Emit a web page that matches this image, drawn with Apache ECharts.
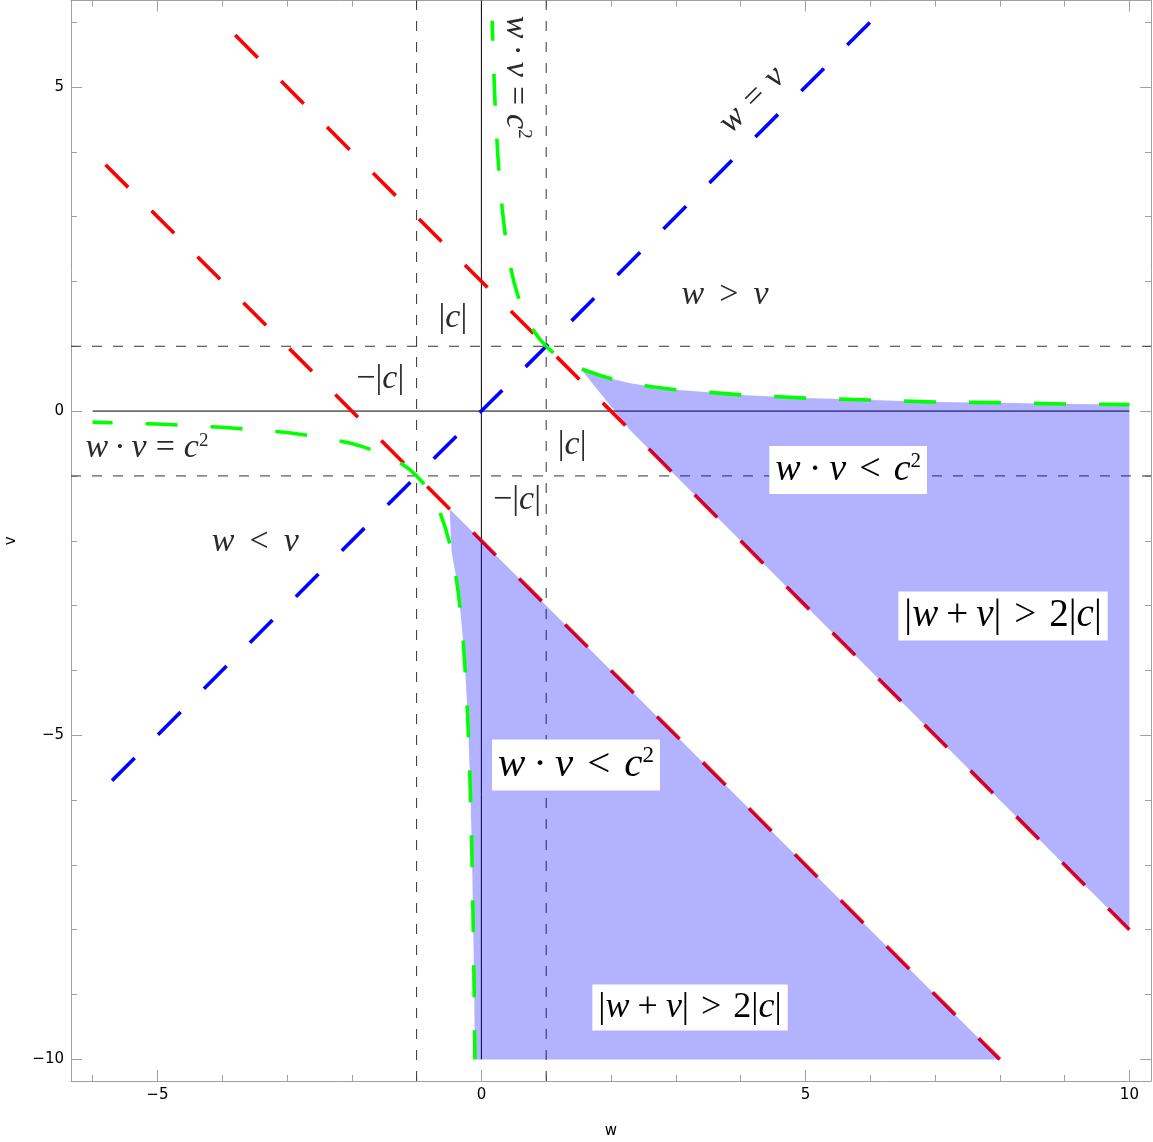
<!DOCTYPE html>
<html lang="en">
<head>
<meta charset="UTF-8">
<title>w v regions</title>
<script src="https://cdn.jsdelivr.net/npm/echarts@6/dist/echarts.min.js"></script>
<style>
    html, body { margin: 0; padding: 0; background: #fff; }
    #main { width: 1153px; height: 1142px; }
</style>
</head>
<body>
<div id="main"></div>
<script>
    // plot range (Mathematica pads [-6,10] x [-10,6] by 1/48 of the span)
    const W_MIN = -6.3333, W_MAX = 10.3333;
    const V_MIN = -10.3333, V_MAX = 6.3333;

    const ticksW = [-5, 0, 5, 10];
    const ticksV = [-10, -5, 0, 5];
    const minorW = [-6, -5, -4, -3, -2, -1, 0, 1, 2, 3, 4, 5, 6, 7, 8, 9, 10];
    const minorV = [-10, -9, -8, -7, -6, -5, -4, -3, -2, -1, 0, 1, 2, 3, 4, 5, 6];

    // |w+v| = 2|c|  (red)
    const sumUpperW = [-3.8, 10];
    const sumUpperV = [5.8, -8];
    const sumLowerW = [-5.8, 8];
    const sumLowerV = [3.8, -10];

    // w = v  (blue)
    const diagW = [-5.7, 6];
    const diagV = [-5.7, 6];

    // w·v = c²  (green)
    const hypUpperW = [0.166, 0.18, 0.2, 0.22, 0.25, 0.28, 0.32, 0.36, 0.4, 0.45, 0.5, 0.56, 0.63, 0.71, 0.8, 0.9, 1, 1.12, 1.25, 1.4, 1.6, 1.8, 2, 2.3, 2.6, 3, 3.5, 4, 5, 6, 7, 8, 9, 10];
    const hypUpperV = [6.02, 5.56, 5, 4.55, 4, 3.57, 3.13, 2.78, 2.5, 2.22, 2, 1.79, 1.59, 1.41, 1.25, 1.11, 1, 0.89, 0.8, 0.71, 0.63, 0.56, 0.5, 0.43, 0.38, 0.33, 0.29, 0.25, 0.2, 0.17, 0.14, 0.13, 0.11, 0.1];
    const hypLowerW = [-6, -5, -4, -3.5, -3, -2.5, -2, -1.8, -1.6, -1.4, -1.25, -1.12, -1, -0.9, -0.8, -0.71, -0.63, -0.56, -0.5, -0.45, -0.4, -0.36, -0.32, -0.28, -0.25, -0.22, -0.2, -0.18, -0.16, -0.14, -0.12, -0.11, -0.1];
    const hypLowerV = [-0.17, -0.2, -0.25, -0.29, -0.33, -0.4, -0.5, -0.56, -0.63, -0.71, -0.8, -0.89, -1, -1.11, -1.25, -1.41, -1.59, -1.79, -2, -2.22, -2.5, -2.78, -3.13, -3.57, -4, -4.55, -5, -5.56, -6.25, -7.14, -8.33, -9.09, -10];

    // ±|c| guides
    const guideW = [-1, 1];
    const guideV = [-1, 1];

    // shaded regions: w·v < c² and |w+v| > 2|c|
    const shadeUpperW = [1.54, 1.6, 1.8, 2, 2.3, 2.6, 3, 3.5, 4, 5, 6, 7, 8, 9, 10, 10, 2.3];
    const shadeUpperV = [0.64, 0.63, 0.56, 0.5, 0.43, 0.38, 0.33, 0.29, 0.25, 0.2, 0.17, 0.14, 0.13, 0.11, 0.1, -8, -0.3];
    const shadeLowerW = [-0.49, -0.46, -0.4, -0.36, -0.32, -0.28, -0.25, -0.22, -0.2, -0.18, -0.16, -0.14, -0.12, -0.11, -0.1, 8];
    const shadeLowerV = [-1.51, -2.17, -2.5, -2.78, -3.13, -3.57, -4, -4.55, -5, -5.56, -6.25, -7.14, -8.33, -9.09, -10, -10];

    const pts = (xs, ys) => xs.map((x, i) => [x, ys[i]]);

    const frameColor = '#a0a0a0';
    const fmt = v => String(v).replace('-', '\u2212');

    function axisDef(position, min, max, values, tickLen, withLabels, showLine) {
        return {
            type: 'value', position: position, min: min, max: max,
            splitLine: { show: false },
            axisLine: { show: showLine, onZero: false, lineStyle: { color: frameColor, width: 1 } },
            axisTick: { show: true, inside: true, length: tickLen, customValues: values,
                lineStyle: { color: frameColor, width: 1 } },
            axisLabel: withLabels
                ? { show: true, customValues: values, margin: 7, color: '#000',
                    fontFamily: 'DejaVu Sans', fontSize: 15, formatter: fmt }
                : { show: false }
        };
    }

    function lineSeries(data, color, width, dash, offset, z) {
        return {
            type: 'line', data: data, xAxisIndex: 0, yAxisIndex: 0,
            symbol: 'none', showSymbol: false, silent: true, z: z,
            lineStyle: { color: color, width: width, type: dash, dashOffset: offset }
        };
    }

    function shadeSeries(data) {
        return {
            type: 'custom', xAxisIndex: 0, yAxisIndex: 0, z: 3, silent: true,
            data: data,
            renderItem: function (params, api) {
                if (params.dataIndex !== 0) return;
                return {
                    type: 'polygon',
                    shape: { points: data.map(p => api.coord(p)) },
                    style: { fill: 'rgba(0,0,255,0.3)' }
                };
            }
        };
    }

    const xBottom = axisDef('bottom', W_MIN, W_MAX, ticksW, 11, true, true);
    xBottom.name = 'w';
    xBottom.nameLocation = 'middle';
    xBottom.nameGap = 43;
    xBottom.nameTextStyle = { fontFamily: 'DejaVu Sans', fontSize: 15, color: '#000' };
    const yLeft = axisDef('left', V_MIN, V_MAX, ticksV, 11, true, true);
    yLeft.name = 'v';
    yLeft.nameLocation = 'middle';
    yLeft.nameGap = 52;
    yLeft.nameTextStyle = { fontFamily: 'DejaVu Sans', fontSize: 15, color: '#000' };

    const guideDash = [10, 11];
    const series = [];
    guideV.forEach(v => series.push(lineSeries([[W_MIN, v], [W_MAX, v]], '#333', 1, guideDash, 0, 1)));
    guideW.forEach(w => series.push(lineSeries([[w, V_MIN], [w, V_MAX]], '#333', 1, guideDash, 0, 1)));
    series.push(lineSeries([[-6, 0], [10, 0]], '#000', 1, 'solid', 0, 1));
    series.push(lineSeries([[0, -10], [0, V_MAX]], '#000', 1, 'solid', 0, 1));
    series.push(lineSeries(pts(sumUpperW, sumUpperV), '#ff0000', 3.6, [32, 33], 0, 2));
    series.push(lineSeries(pts(sumLowerW, sumLowerV), '#ff0000', 3.6, [32, 33], 0, 2));
    series.push(lineSeries(pts(diagW, diagV), '#0000ff', 3.6, [32, 33], 0, 2));
    series.push(shadeSeries(pts(shadeUpperW, shadeUpperV)));
    series.push(shadeSeries(pts(shadeLowerW, shadeLowerV)));
    series.push(lineSeries(pts(hypUpperW, hypUpperV), '#00ff00', 3.6, [32, 33], 12, 4));
    series.push(lineSeries(pts(hypLowerW, hypLowerV), '#00ff00', 3.6, [32, 33], 12, 4));

    const chart = echarts.init(document.getElementById('main'));
    chart.setOption({
        animation: false,
        backgroundColor: '#fff',
        grid: { left: 71, right: 2, top: 0.5, bottom: 61, outerBoundsMode: 'none', containLabel: false },
        xAxis: [
            xBottom,
            axisDef('top', W_MIN, W_MAX, ticksW, 11, false, true),
            axisDef('bottom', W_MIN, W_MAX, minorW, 6, false, false),
            axisDef('top', W_MIN, W_MAX, minorW, 6, false, false)
        ],
        yAxis: [
            yLeft,
            axisDef('right', V_MIN, V_MAX, ticksV, 11, false, true),
            axisDef('left', V_MIN, V_MAX, minorV, 6, false, false),
            axisDef('right', V_MIN, V_MAX, minorV, 6, false, false)
        ],
        series: series
    });

    // annotations
    function richFor(size, color, bin, rel) {
        const base = { fontFamily: 'Liberation Serif', fontSize: size, fill: color };
        return {
            i: Object.assign({}, base, { fontStyle: 'italic' }),
            r: Object.assign({}, base),
            b: Object.assign({}, base, { padding: [0, bin] }),
            e: Object.assign({}, base, { padding: [0, rel] }),
            s: Object.assign({}, base, { fontSize: Math.round(size * 0.56), verticalAlign: 'top' })
        };
    }

    const prodEq = '{i|w}{b|·}{i|v}{e|=}{i|c}{s|2}';
    const prodLess = '{i|w}{b|·}{i|v}{e|<}{i|c}{s|2}';
    const sumMore = '{r||}{i|w}{b|+}{i|v}{r||}{e|>}{r|2|}{i|c}{r||}';
    const absC = '{r||}{i|c}{r||}';
    const negAbsC = '{r|\u2212|}{i|c}{r||}';

    const notes = [
        { at: [0.535, 5.15], text: prodEq, size: 34, bin: 6, rel: 9, rot: -90 },
        { at: [4.18, 4.8], text: '{i|w}{e|=}{i|v}', size: 34, bin: 6, rel: 11, rot: 45 },
        { at: [3.76, 1.79], text: '{i|w}{e|>}{i|v}', size: 34, bin: 6, rel: 15, rot: 0 },
        { at: [-0.44, 1.43], text: absC, size: 34, bin: 6, rel: 9, rot: 0 },
        { at: [-1.56, 0.49], text: negAbsC, size: 34, bin: 6, rel: 9, rot: 0 },
        { at: [1.40, -0.52], text: absC, size: 34, bin: 6, rel: 9, rot: 0 },
        { at: [0.55, -1.37], text: negAbsC, size: 34, bin: 6, rel: 9, rot: 0 },
        { at: [-5.16, -0.57], text: prodEq, size: 34, bin: 6, rel: 9, rot: 0 },
        { at: [-3.49, -2.02], text: '{i|w}{e|<}{i|v}', size: 34, bin: 6, rel: 15, rot: 0 },
        { at: [5.66, -0.91], text: prodLess, size: 38, bin: 8, rel: 13, rot: 0, box: true },
        { at: [8.05, -3.16], text: sumMore, size: 39, bin: 8, rel: 13, rot: 0, box: true },
        { at: [1.46, -5.46], text: prodLess, size: 41, bin: 8, rel: 14, rot: 0, box: true },
        { at: [3.22, -9.2], text: sumMore, size: 36, bin: 8, rel: 12, rot: 0, box: true }
    ];

    const graphic = notes.map(n => {
        const p = chart.convertToPixel({ xAxisIndex: 0, yAxisIndex: 0 }, n.at);
        const color = n.box ? '#000' : '#2a2a2a';
        const style = {
            text: n.text, rich: richFor(n.size, color, n.bin, n.rel),
            fill: color, align: 'center', verticalAlign: 'middle'
        };
        if (n.box) {
            style.backgroundColor = '#fff';
            style.padding = [5, 6, 5, 6];
        }
        return { type: 'text', x: p[0], y: p[1], rotation: n.rot * Math.PI / 180, z: 10, silent: true, style: style };
    });
    chart.setOption({ graphic: graphic });
</script>
</body>
</html>
